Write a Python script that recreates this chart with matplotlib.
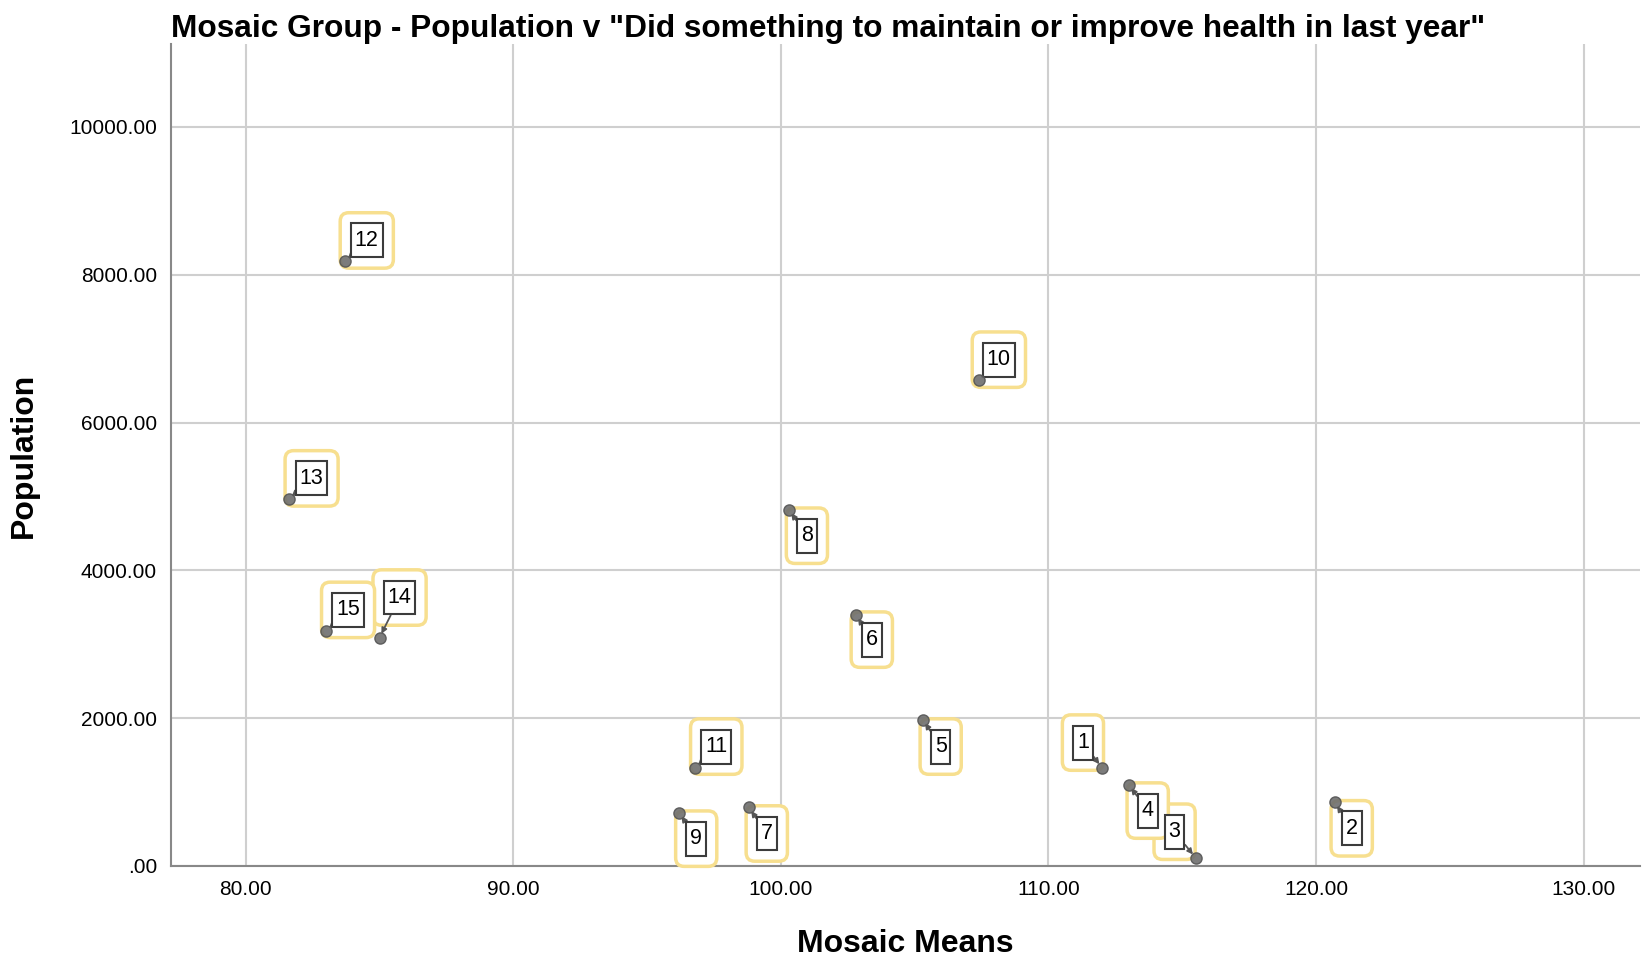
import matplotlib.pyplot as plt
import numpy as np
from matplotlib.path import Path
from matplotlib.patches import BoxStyle

plt.rcParams['font.family'] = ['Liberation Sans', 'DejaVu Sans']

groups = ['1', '2', '3', '4', '5', '6', '7', '8', '9', '10', '11', '12', '13', '14', '15']
mosaic_means = [112.0, 120.7, 115.5, 113.0, 105.3, 102.8, 98.8, 100.3, 96.2, 107.4, 96.8, 83.7, 81.6, 85.0, 83.0]
population = [1330, 860, 110, 1100, 1980, 3400, 790, 4820, 720, 6580, 1330, 8180, 4960, 3090, 3180]
# label offsets (pixels) from each point
label_dx = [-19, 17, -21, 19, 18, 16, 18, 18, 17, 20, 21, 22, 23, 20, 22]
label_dy = [25, -26, 26, -26, -27, -25, -26, -26, -26, 20, 21, 21, 21, 40, 21]

xticks = [80, 90, 100, 110, 120, 130]
yticks = [0, 2000, 4000, 6000, 8000, 10000]

PX, PY = 0.18, 0.3


# tall narrow box like the SPSS label frame
def tall_box(x0, y0, width, height, mutation_size):
    px = PX * mutation_size
    py = PY * mutation_size
    x0, x1 = x0 - px, x0 + width + px
    y0, y1 = y0 - py, y0 + height + py
    return Path([(x0, y0), (x1, y0), (x1, y1), (x0, y1), (x0, y0)], closed=True)


# yellow rounded frame around the inner box
def outer_box(x0, y0, width, height, mutation_size):
    px = (PX + 0.5) * mutation_size
    py = (PY + 0.5) * mutation_size
    return BoxStyle.Round(pad=0, rounding_size=0.4 * mutation_size)(
        x0 - px, y0 - py, width + 2 * px, height + 2 * py, 1.0)


fig = plt.figure(figsize=(16.43, 9.61), dpi=100)
ax = fig.add_axes([0.104, 0.099, 0.894, 0.855])

ax.scatter(mosaic_means, population, s=65, color='#6e6e6e', edgecolor='#555555',
           linewidth=1, alpha=0.9, zorder=6)

for g, x, y, dx, dy in zip(groups, mosaic_means, population, label_dx, label_dy):
    ax.annotate(g, (x, y), xytext=(dx, dy), textcoords='offset pixels',
                ha='center', va='center', fontsize=15.5, color='none',
                bbox=dict(boxstyle=outer_box, fc='white', ec='#f7df8f', lw=2.5), zorder=4)
    ax.annotate(g, (x, y), xytext=(dx, dy), textcoords='offset pixels',
                ha='center', va='center', fontsize=15.5, color='black',
                bbox=dict(boxstyle=tall_box, fc='white', ec='#3c3c3c', lw=1.5),
                arrowprops=dict(arrowstyle='-|>', mutation_scale=8, color='#555555', lw=1.3,
                                shrinkA=0, shrinkB=3), zorder=5)

ax.set_xlim(77.2, 132.1)
ax.set_ylim(0, 11120)
ax.set_xticks(xticks)
ax.set_yticks(yticks)
ax.set_xticklabels(['%.2f' % v for v in xticks])
ax.set_yticklabels(['.00' if v == 0 else '%.2f' % v for v in yticks])
ax.tick_params(length=0, labelsize=15, pad=10)
ax.grid(True, color='#cfcfcf', linewidth=1.5)
ax.set_axisbelow(True)
for s in ['top', 'right']:
    ax.spines[s].set_visible(False)
for s in ['left', 'bottom']:
    ax.spines[s].set_color('#888888')
    ax.spines[s].set_linewidth(1.5)

ax.set_xlabel('Mosaic Means', fontsize=23, fontweight='bold', labelpad=22)
ax.set_ylabel('Population', fontsize=23, fontweight='bold', labelpad=22)
ax.set_title('Mosaic Group - Population v "Did something to maintain or improve health in last year"',
             loc='left', fontsize=22.8, fontweight='bold', pad=4)

fig.savefig('out.png', dpi=100)
